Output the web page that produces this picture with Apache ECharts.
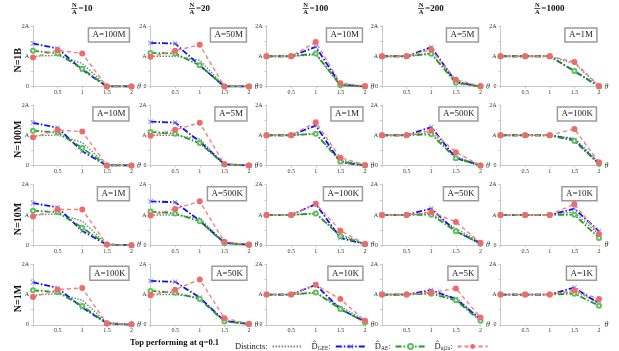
<!DOCTYPE html>
<html>
<head>
<meta charset="utf-8">
<script src="https://cdn.jsdelivr.net/npm/echarts@6/dist/echarts.min.js"></script>
<style>
  html, body { margin: 0; padding: 0; background: #fff; }
  #main { width: 619px; height: 351px; }
</style>
</head>
<body>
<div id="main"></div>
<script>
// theta values on every x axis
const thetas = [0, 0.5, 1, 1.5, 2]
const colTitles = ['10', '20', '100', '200', '1000']
const rowLabels = ['N=1B', 'N=100M', 'N=10M', 'N=1M']
const boxLabels = [
  ['A=100M', 'A=50M', 'A=10M', 'A=5M', 'A=1M'],
  ['A=10M', 'A=5M', 'A=1M', 'A=500K', 'A=100K'],
  ['A=1M', 'A=500K', 'A=100K', 'A=50K', 'A=10K'],
  ['A=100K', 'A=50K', 'A=10K', 'A=5K', 'A=1K']
]
const yTickLabels = { 0: '0', 1: 'A', 2: '2A' }

// values in units of A, [row][col][theta]
const distincts = [
  [[1.0, 1.03, 0.76, 0.02, 0], [1, 1, 0.87, 0.02, 0], [1, 1, 1.05, 0.05, 0], [1, 1, 1.1, 0.15, 0], [1, 1, 1, 0.76, 0.02]],
  [[0.98, 1.01, 0.76, 0.02, 0], [1, 1, 0.88, 0.03, 0], [1, 1, 1.05, 0.18, 0.02], [1, 1, 1.1, 0.3, 0.02], [1, 1, 1, 0.9, 0.1]],
  [[1.0, 1.03, 0.8, 0.03, 0], [1, 1, 0.9, 0.07, 0.02], [1, 1, 1.05, 0.35, 0.05], [1, 1, 1.05, 0.55, 0.1], [1, 1, 1, 1.1, 0.35]],
  [[0.98, 1.03, 0.82, 0.07, 0.01], [1, 1, 0.9, 0.13, 0.03], [1, 1, 1.05, 0.6, 0.15], [1, 1, 1.05, 0.9, 0.2], [1, 1, 1, 1.1, 0.75]]
]
const gee = [
  [[1.42, 1.26, 0.55, 0, 0], [1.44, 1.42, 0.70, 0, 0], [1, 1, 1.31, 0.07, 0], [1, 1, 1.30, 0.15, 0], [1, 1, 1, 0.51, 0]],
  [[1.41, 1.25, 0.47, 0, 0], [1.45, 1.42, 0.79, 0.04, 0], [1, 1, 1.32, 0.11, 0], [1, 1, 1.27, 0.24, 0], [1, 1, 1, 0.85, 0.05]],
  [[1.39, 1.25, 0.47, 0.02, 0], [1.45, 1.42, 0.81, 0.08, 0.02], [1, 1, 1.36, 0.24, 0.04], [1, 1, 1.21, 0.46, 0.06], [1, 1, 1, 1.21, 0.46]],
  [[1.40, 1.22, 0.57, 0.05, 0], [1.45, 1.42, 0.90, 0.13, 0.03], [1, 1, 1.32, 0.52, 0.1], [1, 1, 1.15, 0.85, 0.18], [1, 1, 1, 1.23, 0.70]]
]
const ae = [
  [[1.18, 1.09, 0.59, 0, 0], [1.11, 1.09, 0.70, 0, 0], [1, 1, 1.09, 0.04, 0], [1, 1, 1.08, 0.12, 0], [1, 1, 1, 0.51, 0]],
  [[1.15, 1.09, 0.58, 0, 0], [1.11, 1.05, 0.74, 0.04, 0], [1, 1, 1.05, 0.13, 0], [1, 1, 1.03, 0.24, 0], [1, 1, 1, 0.81, 0.06]],
  [[1.14, 1.09, 0.58, 0.02, 0], [1.11, 1.05, 0.79, 0.07, 0.01], [1, 1, 1.05, 0.30, 0.03], [1, 1, 1.01, 0.46, 0.05], [1, 1, 1, 1.01, 0.24]],
  [[1.14, 1.08, 0.62, 0.05, 0.02], [1.12, 1.06, 0.85, 0.11, 0.03], [1, 1, 1.07, 0.52, 0.08], [1, 1, 1.03, 0.81, 0.13], [1, 1, 1, 1.03, 0.63]]
]
const uj2a = [
  [[0.96, 1.2, 1.09, 0, 0], [0.98, 1.18, 1.38, 0, 0], [1, 1, 1.47, 0.11, 0.02], [1, 1, 1.22, 0.22, 0.02], [1, 1, 1, 0.81, 0.02]],
  [[0.93, 1.17, 1.12, 0, 0], [0.98, 1.18, 1.41, 0.04, 0], [1, 1, 1.43, 0.26, 0.02], [1, 1, 1.16, 0.44, 0], [1, 1, 1, 1.21, 0.11]],
  [[0.95, 1.18, 1.18, 0.02, 0], [0.98, 1.2, 1.45, 0.11, 0.02], [1, 1, 1.37, 0.48, 0.04], [1, 1, 1.1, 0.77, 0.08], [1, 1, 1, 1.36, 0.37]],
  [[0.92, 1.16, 1.22, 0.04, 0.02], [0.98, 1.16, 1.5, 0.22, 0.03], [1, 1, 1.32, 0.85, 0.13], [1, 1, 1.07, 1.2, 0.24], [1, 1, 1, 1.14, 0.85]]
]

const serif = '"Liberation Serif", "DejaVu Serif", serif'
const colLeft = [33, 150.5, 266.5, 382, 500.5]
const rowTop = [26, 105, 184.7, 264.3]
const plotW = 98.5
const plotH = 60.5
const W = 619

const crossPath = 'path://M0,1L1,0L5,4L9,0L10,1L6,5L10,9L9,10L5,6L1,10L0,9L4,5Z'

// one entry per method, in drawing order
const methods = [
  { name: 'Distincts', data: distincts, color: '#808080', lineType: [1.5, 1.5], width: 1.4, symbol: 'none', size: 0 },
  { name: 'GEE', data: gee, color: '#1010f0', lineType: [6, 2, 1.5, 2], width: 1.8, symbol: crossPath, size: 5, sym: '#7878ff' },
  { name: 'AE', data: ae, color: '#1f9a1f', lineType: [6, 2, 1.5, 2], width: 1.8, symbol: 'emptyCircle', size: 4, sym: '#5fc05f' },
  { name: 'uj2a', data: uj2a, color: '#f08080', lineType: [4, 3], width: 1.4, symbol: 'circle', size: 6, sym: '#f06a6a' }
]

const grid = [], xAxis = [], yAxis = [], series = [], title = [], graphic = []

rowLabels.forEach((rl, r) => {
  colTitles.forEach((ct, c) => {
    const idx = r * 5 + c
    grid.push({ left: colLeft[c], top: rowTop[r], width: plotW, height: plotH })
    xAxis.push({
      type: 'value', gridIndex: idx, min: 0, max: 2, interval: 0.5,
      name: 'θ', nameLocation: 'end', nameGap: 4,
      nameTextStyle: { fontFamily: serif, fontStyle: 'italic', fontSize: 8, color: '#333' },
      axisLine: { lineStyle: { color: '#c8c8c8', width: 1 } },
      axisTick: { length: 2, lineStyle: { color: '#c8c8c8' } },
      axisLabel: {
        fontFamily: serif, fontSize: 6, color: '#333', margin: 3,
        formatter: v => (v === 0 ? '' : String(v))
      },
      splitLine: { show: false }
    })
    yAxis.push({
      type: 'value', gridIndex: idx, min: 0, max: 2, interval: 0.5,
      axisLine: { show: true, lineStyle: { color: '#c8c8c8', width: 1 } },
      axisTick: { show: true, length: 2, lineStyle: { color: '#c8c8c8' } },
      axisLabel: {
        fontFamily: serif, fontSize: 6, color: '#333', margin: 4,
        formatter: v => yTickLabels[v] || ''
      },
      splitLine: { show: false }
    })
    methods.forEach(m => {
      series.push({
        name: m.name, type: 'line', xAxisIndex: idx, yAxisIndex: idx,
        data: thetas.map((t, i) => [t, m.data[r][c][i]]),
        symbol: m.symbol, symbolSize: m.size, showSymbol: m.symbol !== 'none',
        lineStyle: { color: m.color, width: m.width, type: m.lineType },
        itemStyle: { color: m.sym || m.color },
        silent: true
      })
    })
    // A=... box in the top right corner
    title.push({
      text: boxLabels[r][c],
      right: W - (colLeft[c] + plotW) + 2,
      top: rowTop[r] + 2,
      padding: [2, 4, 2, 4],
      borderColor: '#9a9a9a', borderWidth: 1.5,
      textStyle: { fontFamily: serif, fontSize: 9, fontWeight: 'normal', color: '#222', lineHeight: 10 }
    })
  })
})

// column titles: N/A = value
colTitles.forEach((ct, c) => {
  const cx = colLeft[c] + plotW / 2
  const tw = 5.5 + 4.6 * ct.length
  const x0 = cx - (7 + tw) / 2
  graphic.push(
    { type: 'text', x: x0 + 3, y: 5, style: { text: 'N', font: 'bold 6.5px ' + serif, textAlign: 'center', textVerticalAlign: 'middle', fill: '#111' } },
    { type: 'line', shape: { x1: x0, y1: 8.5, x2: x0 + 6, y2: 8.5 }, style: { stroke: '#111', lineWidth: 0.7 } },
    { type: 'text', x: x0 + 3, y: 12, style: { text: 'A', font: 'bold 6.5px ' + serif, textAlign: 'center', textVerticalAlign: 'middle', fill: '#111' } },
    { type: 'text', x: x0 + 7, y: 8.5, style: { text: '=' + ct, font: 'bold 9px ' + serif, textAlign: 'left', textVerticalAlign: 'middle', fill: '#111' } }
  )
})

// row labels, rotated
rowLabels.forEach((rl, r) => {
  graphic.push({
    type: 'text', x: 18, y: rowTop[r] + plotH / 2 + 4, rotation: Math.PI / 2,
    style: { text: rl, font: 'bold 10px ' + serif, textAlign: 'center', textVerticalAlign: 'middle', fill: '#111' }
  })
})

graphic.push({
  type: 'text', x: 130, y: 343,
  style: { text: 'Top performing at q=0.1', font: 'bold 8.5px ' + serif, textAlign: 'left', textVerticalAlign: 'middle', fill: '#111' }
})

const legendNames = {
  Distincts: 'Distincts:',
  GEE: 'D\u0302{s|GEE}:',
  AE: 'D\u0302{s|AE}:',
  uj2a: 'D\u0302{s|uj2a}:'
}

const myChart = echarts.init(document.getElementById('main'))
myChart.setOption({
  animation: false,
  backgroundColor: '#fff',
  title,
  grid,
  xAxis,
  yAxis,
  series,
  graphic,
  legend: {
    data: [
      { name: 'Distincts', itemStyle: { opacity: 0 } },
      'GEE', 'AE', 'uj2a'
    ],
    left: 230, top: 337,
    align: 'right',
    itemWidth: 30, itemHeight: 6, itemGap: 8,
    selectedMode: false,
    formatter: name => legendNames[name],
    textStyle: {
      fontFamily: serif, fontSize: 8.5, color: '#222',
      rich: { s: { fontFamily: serif, fontSize: 5.5, color: '#222', padding: [5, 0, 0, 0] } }
    }
  }
})
</script>
</body>
</html>
